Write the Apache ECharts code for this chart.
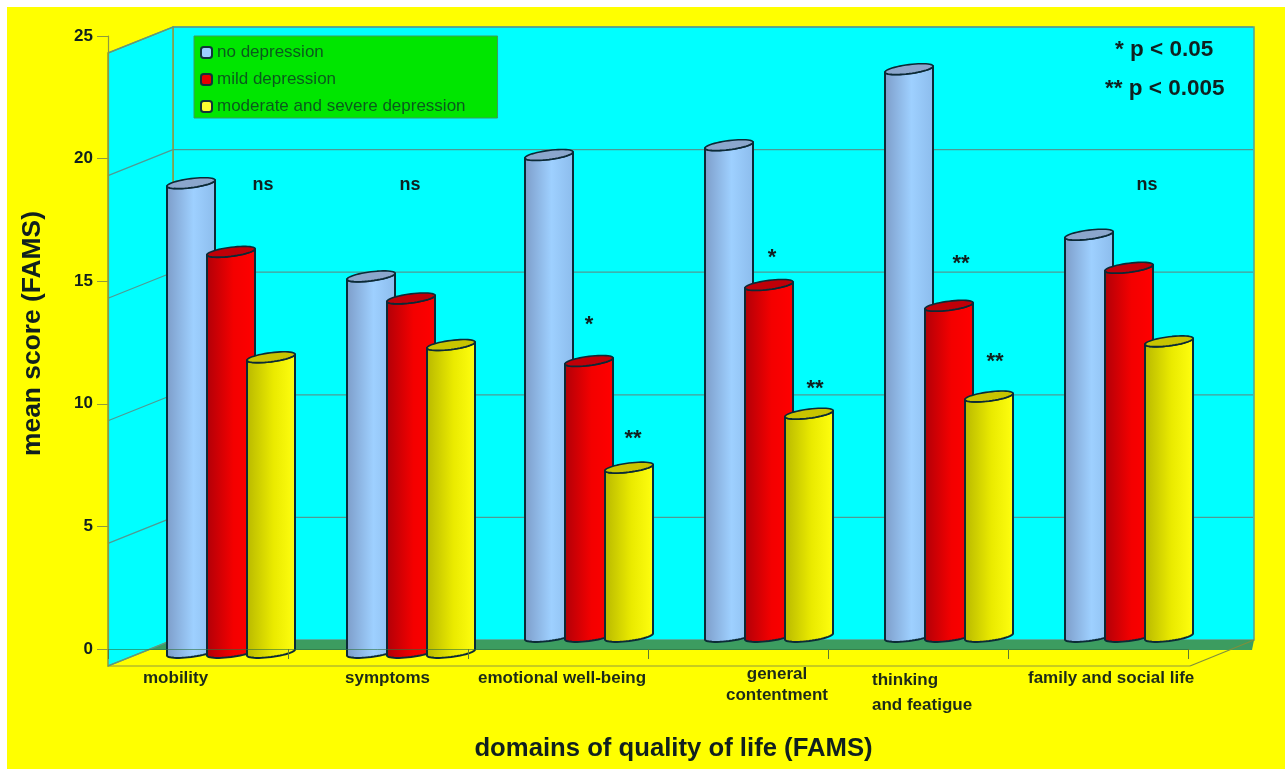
<!DOCTYPE html>
<html>
<head>
<meta charset="utf-8">
<style>
  html, body { margin: 0; padding: 0; background: #fff; }
  #chart { width: 1285px; height: 769px; }
</style>
<script src="https://cdn.jsdelivr.net/npm/echarts@6/dist/echarts.min.js"></script>
</head>
<body>
<div id="chart"></div>
<script>
const categories = ["mobility", "symptoms", "emotional well-being", "general\ncontentment", "thinking\nand featigue", "family and social life"];
const noDepression = [19.0, 15.2, 20.15, 20.55, 23.65, 16.9];
const mildDepression = [16.2, 14.3, 11.75, 14.85, 14.0, 15.55];
const severeDepression = [11.9, 12.4, 7.4, 9.6, 10.3, 12.55];
const yTicks = [0, 5, 10, 15, 20, 25];

// significance marks: category index, height on the value axis, text
const sigCat = [0, 1, 5, 2, 2, 3, 3, 4, 4];
const sigVal = [19, 19, 19, 13.3, 8.65, 16.05, 10.7, 15.8, 11.8];
const sigText = ["ns", "ns", "ns", "*", "**", "*", "**", "**", "**"];
const sigDx = [65, 32, 49, 31, 75, 34, 77, 43, 77];

// the original has hand placed groups and labels
const groupDx = [-7, -7, -9, -9, -9, -9];
const groupBase = [3.5, 3.5, -12.5, -12.5, -12.5, -12.5];
const labelDx = [-55, -33, -80, 39, -46, -70];
const labelDy = [19, 19, 19, 15, 19, 19];
const labelLine = [20, 20, 20, 21, 25, 20];
const labelAlign = ["left", "left", "left", "center", "left", "left"];

const FONT = '"Liberation Sans", Arial, sans-serif';
const INK = "#10201f";
const LINE = "#4f9a94";
const BACK = [65, -9];
const FRONT = 17;

function wall(params, api) {
  const r = params.coordSys;
  const bottom = r.y + r.height, right = r.x + r.width;
  const line = { stroke: LINE, lineWidth: 1.2 };
  const kids = [
    { type: "rect", shape: { x: r.x + BACK[0], y: r.y + BACK[1], width: r.width + 1, height: r.height }, style: { fill: "#00ffff", stroke: "#5f9f8c", lineWidth: 1.5 } },
    { type: "polygon", shape: { points: [[r.x, r.y + FRONT], [r.x + BACK[0], r.y + BACK[1]], [r.x + BACK[0], bottom + BACK[1]], [r.x, bottom + FRONT]] }, style: { fill: "#00ffff", stroke: "#8f9a3c", lineWidth: 1.5 } },
    { type: "polygon", shape: { points: [[r.x + 40, bottom + 1], [r.x + BACK[0], bottom + BACK[1]], [right + BACK[0] + 1, bottom + BACK[1]], [right + BACK[0] - 1, bottom + 1]] }, style: { fill: "#3c9c60" } },
    { type: "line", shape: { x1: r.x, y1: bottom + FRONT, x2: right + 2, y2: bottom + FRONT }, style: { stroke: "#8f9a3c", lineWidth: 1.2 } },
    { type: "line", shape: { x1: right + 2, y1: bottom + FRONT, x2: right + BACK[0] + 1, y2: bottom + BACK[1] }, style: { stroke: "#7f8f3c", lineWidth: 1.2 } }
  ];
  yTicks.forEach(function (t) {
    const y = api.coord([0, t])[1];
    if (t > 0) {
      kids.push({ type: "line", shape: { x1: r.x + BACK[0], y1: y + BACK[1], x2: right + BACK[0], y2: y + BACK[1] }, style: line });
    }
    kids.push({ type: "line", shape: { x1: r.x, y1: y + FRONT, x2: r.x + BACK[0], y2: y + BACK[1] }, style: line });
  });
  return { type: "group", children: kids };
}

function cylinder(colors, capColor, slot) {
  return function (params, api) {
    const cat = api.value(0);
    const cx = api.coord([cat, 0])[0] + groupDx[cat] + slot * 40;
    const top = api.coord([cat, api.value(1)])[1];
    const base = api.coord([cat, 0])[1] + groupBase[cat];
    const rx = 24, ry = 4.5, tilt = 3;
    const pt = function (cy, a) {
      return [cx + rx * Math.cos(a), cy + ry * Math.sin(a) - tilt * Math.cos(a)];
    };
    const body = [], cap = [];
    for (let i = 0; i <= 24; i++) {
      body.push(pt(base, Math.PI - Math.PI * i / 24));
    }
    for (let i = 0; i <= 24; i++) {
      body.push(pt(top, Math.PI * i / 24));
    }
    for (let i = 0; i < 48; i++) {
      cap.push(pt(top, Math.PI * 2 * i / 48));
    }
    return {
      type: "group",
      children: [
        {
          type: "polygon",
          shape: { points: body },
          style: {
            fill: new echarts.graphic.LinearGradient(0, 0, 1, 0, [
              { offset: 0, color: colors[0] },
              { offset: 0.55, color: colors[1] },
              { offset: 1, color: colors[2] }
            ]),
            stroke: "#0b2a36",
            lineWidth: 2,
            lineJoin: "round"
          }
        },
        {
          type: "polygon",
          shape: { points: cap },
          style: { fill: capColor, stroke: "#0b2a36", lineWidth: 1.6, lineJoin: "round" }
        }
      ]
    };
  };
}

function sigMark(params, api) {
  const i = params.dataIndex;
  const p = api.coord([api.value(0), api.value(1)]);
  const star = sigText[i] !== "ns";
  return {
    type: "text",
    style: {
      text: sigText[i],
      x: p[0] + sigDx[i],
      y: p[1] + 2,
      textAlign: "center",
      textVerticalAlign: "middle",
      font: "bold " + (star ? 22 : 18) + "px " + FONT,
      fill: INK
    }
  };
}

function catLabel(params, api) {
  const i = params.dataIndex;
  const p = api.coord([i, 0]);
  return {
    type: "text",
    style: {
      text: categories[i],
      x: p[0] + labelDx[i],
      y: p[1] + labelDy[i],
      textAlign: labelAlign[i],
      textVerticalAlign: "top",
      lineHeight: labelLine[i],
      font: "bold 17px " + FONT,
      fill: "#1c2a1a"
    }
  };
}

function pairs(values) {
  return values.map(function (v, i) { return [i, v]; });
}

const chart = echarts.init(document.getElementById("chart"));
chart.setOption({
  animation: false,
  graphic: [
    { type: "rect", z: -10, shape: { x: 7, y: 7, width: 1278, height: 762 }, style: { fill: "#ffff00" } },
    { type: "text", z: 10, style: { text: "* p < 0.05", x: 1115, y: 38, font: "bold 22.5px " + FONT, fill: INK } },
    { type: "text", z: 10, style: { text: "** p < 0.005", x: 1105, y: 77, font: "bold 22.5px " + FONT, fill: INK } }
  ],
  grid: { left: 108, top: 36, width: 1080, height: 613 },
  legend: {
    data: [
      { name: "no depression", icon: "roundRect" },
      { name: "mild depression", icon: "roundRect" },
      { name: "moderate and severe depression", icon: "roundRect" }
    ],
    orient: "vertical",
    left: 194,
    top: 36,
    padding: [8, 32, 3, 6],
    itemWidth: 11,
    itemHeight: 11,
    itemGap: 10,
    selectedMode: false,
    backgroundColor: "#00e600",
    borderColor: "#3c9c60",
    borderWidth: 1,
    itemStyle: { borderColor: "#12343a", borderWidth: 2 },
    textStyle: { fontFamily: FONT, fontSize: 17, color: "#0a5a1c" }
  },
  xAxis: {
    type: "category",
    z: 5,
    data: categories,
    name: "domains of quality of life (FAMS)",
    nameLocation: "middle",
    nameGap: 87,
    nameTextStyle: { fontFamily: FONT, fontWeight: "bold", fontSize: 25.7, color: INK, padding: [0, 0, 0, 51] },
    axisLine: { lineStyle: { color: "#2f6f3c", opacity: 0.6 } },
    axisTick: { show: true, interval: 0, length: 10, lineStyle: { color: "#5f7a30" } },
    axisLabel: { show: false }
  },
  yAxis: {
    type: "value",
    z: 5,
    min: 0,
    max: 25,
    interval: 5,
    name: "mean score (FAMS)",
    nameLocation: "middle",
    nameGap: 62,
    nameTextStyle: { fontFamily: FONT, fontWeight: "bold", fontSize: 26.4, color: INK, padding: [0, 0, 0, 18] },
    splitLine: { show: false },
    axisLine: { show: true, lineStyle: { color: "#8f9a3c", width: 1.2 } },
    axisTick: { show: true, length: 11, lineStyle: { color: "#8f9a3c" } },
    axisLabel: { margin: 15, fontFamily: FONT, fontWeight: "bold", fontSize: 17, color: INK }
  },
  series: [
    { type: "custom", name: "wall", z: 1, silent: true, data: [[0, 0]], renderItem: wall, clip: false },
    {
      type: "custom", name: "no depression", z: 2, clip: false,
      itemStyle: { color: "#9ccfff" },
      data: pairs(noDepression),
      renderItem: cylinder(["#7d9cc8", "#9ed0ff", "#8cbcec"], "#8ba6cc", 0)
    },
    {
      type: "custom", name: "mild depression", z: 2, clip: false,
      itemStyle: { color: "#e80000" },
      data: pairs(mildDepression),
      renderItem: cylinder(["#b00008", "#f40000", "#ff0000"], "#c00008", 1)
    },
    {
      type: "custom", name: "moderate and severe depression", z: 2, clip: false,
      itemStyle: { color: "#ffff30" },
      data: pairs(severeDepression),
      renderItem: cylinder(["#b8b800", "#eaea00", "#ffff10"], "#c8c400", 2)
    },
    {
      type: "custom", name: "marks", z: 6, silent: true, clip: false,
      data: sigCat.map(function (c, i) { return [c, sigVal[i]]; }),
      renderItem: sigMark
    },
    {
      type: "custom", name: "labels", z: 6, silent: true, clip: false,
      data: categories.map(function (c, i) { return [i, 0]; }),
      renderItem: catLabel
    }
  ]
});
</script>
</body>
</html>
